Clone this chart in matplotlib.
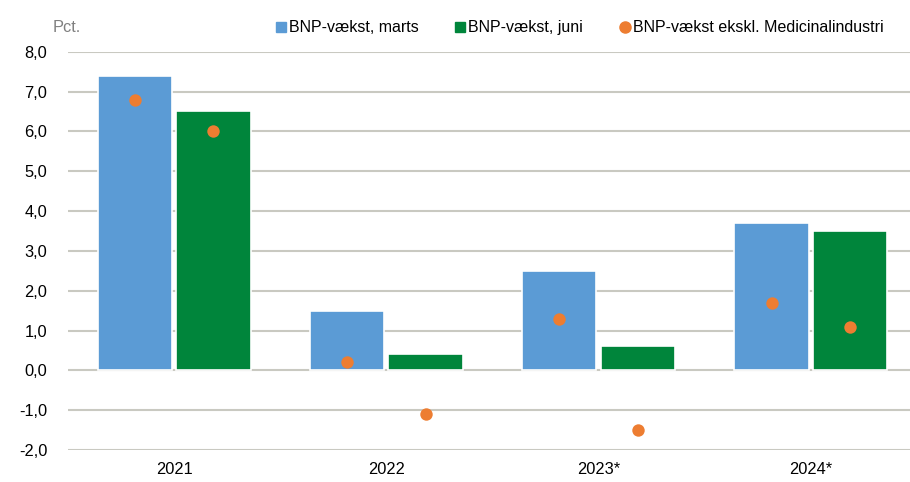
import numpy as np
import matplotlib.pyplot as plt
from matplotlib.lines import Line2D

plt.rcParams['font.family'] = ['Liberation Sans', 'DejaVu Sans']

# data
years = ['2021', '2022', '2023*', '2024*']
marts = [7.4, 1.5, 2.5, 3.7]
juni = [6.5, 0.4, 0.6, 3.5]
ekskl_marts = [6.8, 0.2, 1.3, 1.7]
ekskl_juni = [6.0, -1.1, -1.5, 1.1]
yticks = [-2, -1, 0, 1, 2, 3, 4, 5, 6, 7, 8]

blue = '#5b9bd5'
green = '#00853b'
orange = '#ed7d31'
grid = '#c9c9c1'

fig = plt.figure(figsize=(9.1, 4.82), dpi=100)
ax = fig.add_axes([0.0747, 0.0664, 0.933, 0.8263])

x = np.arange(len(years))
off = 0.185
w = 0.35

ax.bar(x - off, marts, w, color=blue, edgecolor='white', linewidth=1.2, zorder=2)
ax.bar(x + off, juni, w, color=green, edgecolor='white', linewidth=1.2, zorder=2)
ax.scatter(x - off, ekskl_marts, s=80, color=orange, zorder=3, linewidths=0)
ax.scatter(x + off, ekskl_juni, s=80, color=orange, zorder=3, linewidths=0)

ax.set_xlim(-0.5, 3.5)
ax.set_ylim(-2, 8)
ax.set_yticks(yticks)
ax.set_yticklabels([f'{v:.1f}'.replace('.', ',') for v in yticks])
ax.set_xticks(x)
ax.set_xticklabels(years)
ax.tick_params(length=0, labelsize=11.8, colors='black')
ax.tick_params(axis='y', pad=15)
ax.tick_params(axis='x', pad=9)

ax.yaxis.grid(True, color=grid, linewidth=1.5, zorder=0)
ax.set_axisbelow(True)
for s in ax.spines.values():
    s.set_visible(False)

fig.text(0.058, 0.942, 'Pct.', color='#808080', fontsize=11.8, va='center')

handles = [
    Line2D([], [], marker='s', linestyle='', color=blue, markersize=7),
    Line2D([], [], marker='s', linestyle='', color=green, markersize=7),
    Line2D([], [], marker='o', linestyle='', color=orange, markersize=8),
]
labels = ['BNP-vækst, marts', 'BNP-vækst, juni', 'BNP-vækst ekskl. Medicinalindustri']
fig.legend(handles, labels, loc='center left', bbox_to_anchor=(0.302, 0.942),
           ncol=3, frameon=False, fontsize=11.5, handletextpad=0.1,
           columnspacing=2.2, handlelength=0.8, borderpad=0, borderaxespad=0)

fig.savefig('out.png', dpi=100)
